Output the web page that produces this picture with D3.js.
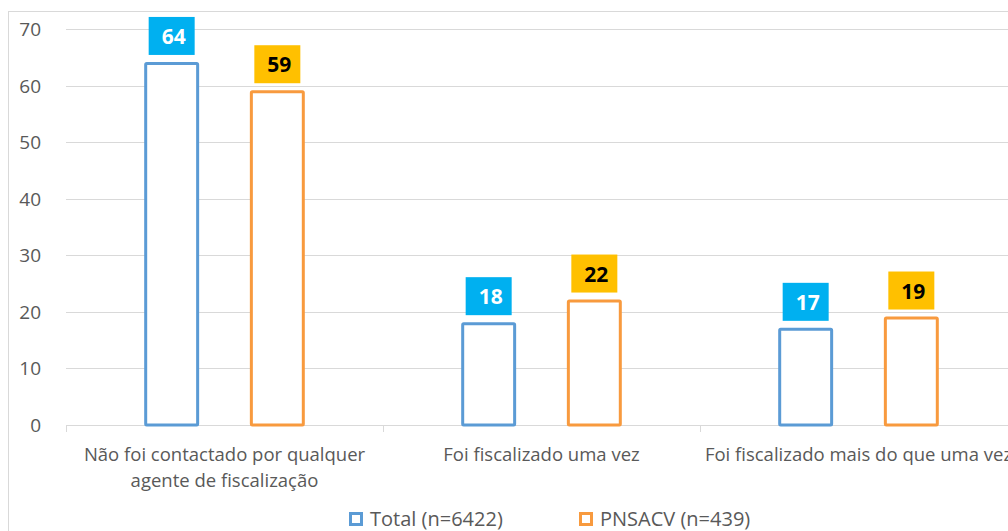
<!DOCTYPE html>
<html>
<head>
<meta charset="utf-8">
<script src="https://cdn.jsdelivr.net/npm/d3@7"></script>
<style>
  body { margin: 0; background: #fff; overflow: hidden; }
  text { font-family: "Open Sans", sans-serif; }
</style>
</head>
<body>
<div id="chart"></div>
<script>
var width = 1008,
    height = 531;

// ******* data ******* //
var categories = [
  ["Não foi contactado por qualquer", "agente de fiscalização"],
  ["Foi fiscalizado uma vez"],
  ["Foi fiscalizado mais do que uma vez"]
];
var seriesNames = ["Total (n=6422)", "PNSACV (n=439)"];
var totalValues = [64, 18, 17];
var pnsacvValues = [59, 22, 19];
var yTicks = [0, 10, 20, 30, 40, 50, 60, 70];

var strokeColors = ["#5B9BD5", "#F89A3E"];
var boxColors = ["#00B0F0", "#FFC000"];
var boxText = ["#ffffff", "#000000"];

var svg = d3.select("#chart").append("svg")
    .attr("width", width)
    .attr("height", height);

// chart border
svg.append("rect")
    .attr("x", 8.5).attr("y", 11.5)
    .attr("width", 1100).attr("height", 600)
    .attr("fill", "none")
    .attr("stroke", "#d9d9d9");

var plot = {left: 66, right: 1017, top: 29, bottom: 425};

var x0 = d3.scaleBand()
    .domain(d3.range(categories.length))
    .range([plot.left, plot.right]);

var x1 = d3.scaleBand()
    .domain(d3.range(seriesNames.length))
    .range([0, x0.bandwidth()])
    .paddingInner(0.48)
    .paddingOuter(0.74);

var y = d3.scaleLinear().domain([0, 70]).range([plot.bottom, plot.top]);

// ******* gridlines ******* //
svg.append("g").selectAll("line")
    .data(yTicks.slice(1))
    .enter().append("line")
    .attr("x1", plot.left).attr("x2", plot.right)
    .attr("y1", function(d) { return Math.round(y(d)) + 0.5; })
    .attr("y2", function(d) { return Math.round(y(d)) + 0.5; })
    .attr("stroke", "#d9d9d9");

// y tick labels
svg.append("g").selectAll("text")
    .data(yTicks)
    .enter().append("text")
    .attr("x", 41)
    .attr("y", function(d) { return y(d) + 7; })
    .attr("text-anchor", "end")
    .attr("fill", "#595959")
    .style("font-size", "19px")
    .text(function(d) { return d; });

// x axis line + ticks
var xAxis = svg.append("g");
xAxis.append("line")
    .attr("x1", plot.left).attr("x2", plot.right)
    .attr("y1", plot.bottom + 0.5).attr("y2", plot.bottom + 0.5)
    .attr("stroke", "#d9d9d9");
xAxis.selectAll("line.tick")
    .data(d3.range(categories.length + 1))
    .enter().append("line")
    .attr("class", "tick")
    .attr("x1", function(d) { return Math.round(plot.left + d * x0.bandwidth()) + 0.5; })
    .attr("x2", function(d) { return Math.round(plot.left + d * x0.bandwidth()) + 0.5; })
    .attr("y1", plot.bottom).attr("y2", plot.bottom + 7)
    .attr("stroke", "#d9d9d9");

// category labels
categories.forEach(function(lines, i) {
  var t = svg.append("text")
      .attr("x", x0(i) + x0.bandwidth() / 2)
      .attr("y", 461)
      .attr("text-anchor", "middle")
      .attr("fill", "#595959")
      .style("font-size", "18.5px");
  lines.forEach(function(l, j) {
    t.append("tspan")
        .attr("x", x0(i) + x0.bandwidth() / 2)
        .attr("dy", j === 0 ? 0 : 26)
        .text(l);
  });
});

// ******* bars ******* //
var seriesValues = [totalValues, pnsacvValues];
seriesValues.forEach(function(vals, s) {
  var g = svg.append("g");
  g.selectAll("rect")
      .data(vals)
      .enter().append("rect")
      .attr("x", function(d, i) { return x0(i) + x1(s) + 1.5; })
      .attr("y", function(d) { return y(d) + 0.5; })
      .attr("width", x1.bandwidth() - 3)
      .attr("height", function(d) { return y(0) - y(d) - 0.5; })
      .attr("fill", "#fff")
      .attr("stroke", strokeColors[s])
      .attr("stroke-width", 3)
      .attr("rx", 1);

  // label boxes
  var lab = g.selectAll("g.lab")
      .data(vals)
      .enter().append("g")
      .attr("class", "lab")
      .attr("transform", function(d, i) {
        return "translate(" + (x0(i) + x1(s) + x1.bandwidth() / 2) + "," + (y(d) - 8) + ")";
      });
  lab.append("rect")
      .attr("x", -23).attr("y", -38)
      .attr("width", 46).attr("height", 38)
      .attr("fill", boxColors[s]);
  lab.append("text")
      .attr("x", 2).attr("y", -11)
      .attr("text-anchor", "middle")
      .attr("fill", boxText[s])
      .style("font-size", "21px")
      .style("font-weight", "bold")
      .text(function(d) { return d; });
});

// ******* legend ******* //
var legendX = [349, 579];
seriesNames.forEach(function(name, s) {
  var lg = svg.append("g").attr("transform", "translate(" + legendX[s] + ",512)");
  lg.append("rect")
      .attr("x", 1.5).attr("y", 1.5)
      .attr("width", 11).attr("height", 11)
      .attr("fill", "#fff")
      .attr("stroke", strokeColors[s])
      .attr("stroke-width", 3);
  lg.append("text")
      .attr("x", 21).attr("y", 14)
      .attr("fill", "#595959")
      .style("font-size", "20px")
      .text(name);
});
</script>
</body>
</html>
